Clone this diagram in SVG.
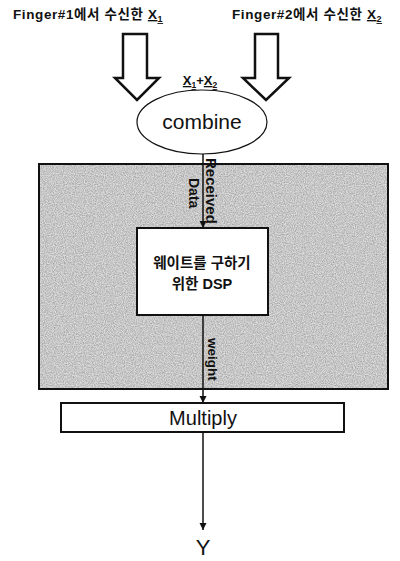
<svg xmlns="http://www.w3.org/2000/svg" width="400" height="561" viewBox="0 0 400 561">
<style>
.lbl{font-family:"Liberation Sans","Noto Sans CJK KR",sans-serif;font-weight:bold;fill:#111}
.top{font-size:13.5px;letter-spacing:0.6px}
.box{fill:#fff;stroke:#111;stroke-width:2}
.blk{fill:#fff;stroke:#111;stroke-width:2.5;stroke-linejoin:miter}
.conn{stroke:#111;stroke-width:1.5;fill:none}
.u{text-decoration:underline}
</style>
<defs>
<marker id="ah" viewBox="0 0 10 10" refX="10" refY="5" markerWidth="7" markerHeight="9" orient="auto" markerUnits="userSpaceOnUse">
<path d="M0,0 L10,5 L0,10 z" fill="#111"/>
</marker>
<filter id="noise" x="0" y="0" width="100%" height="100%">
<feTurbulence type="fractalNoise" baseFrequency="0.9" numOctaves="2" seed="3" result="t"/>
<feColorMatrix in="t" type="matrix" values="0 0 0 0 0  0 0 0 0 0  0 0 0 0 0  0 0 0 -1.6 1.15" result="a"/>
<feComposite in="a" in2="SourceGraphic" operator="in"/>
</filter>
</defs>

<g id="background-region">
<rect x="39" y="164" width="349" height="225" fill="#dcdcdc" stroke="#111" stroke-width="2"/>
<rect x="40" y="165" width="347" height="223" fill="#000" opacity="0.28" filter="url(#noise)"/>
</g>

<g id="input1">
<text class="lbl top" x="13" y="19">Finger#1에서 수신한 <tspan class="u">X</tspan><tspan class="u" font-size="9" dy="3">1</tspan></text>
<path class="blk" d="M123,34 H147 V78 H159 L137,100 L115,78 H123 Z"/>
</g>

<g id="input2">
<text class="lbl top" x="232" y="19">Finger#2에서 수신한 <tspan class="u">X</tspan><tspan class="u" font-size="9" dy="3">2</tspan></text>
<path class="blk" d="M255,34 H278 V78 H289 L266,100 L243,78 H255 Z"/>
</g>

<g id="combine">
<text class="lbl" x="200" y="85" font-size="13" text-anchor="middle"><tspan class="u">X</tspan><tspan class="u" font-size="8.5" dy="3">1</tspan><tspan dy="-3">+</tspan><tspan class="u">X</tspan><tspan class="u" font-size="8.5" dy="3">2</tspan></text>
<ellipse cx="202" cy="122" rx="65" ry="32" fill="#fff" stroke="#111" stroke-width="1.2"/>
<text x="202" y="129" font-family="Liberation Sans,sans-serif" font-size="21" text-anchor="middle" fill="#111">combine</text>
</g>

<g id="dsp">
<rect class="box" x="137" y="228" width="131" height="87"/>
<text class="lbl" x="202" y="268" font-size="14.5" text-anchor="middle">웨이트를 구하기</text>
<text class="lbl" x="202" y="289" font-size="14.5" text-anchor="middle">위한 DSP</text>
</g>

<g id="multiply">
<rect class="box" x="61" y="403" width="283" height="29"/>
<text x="203" y="425" font-family="Liberation Sans,sans-serif" font-size="20" text-anchor="middle" fill="#111">Multiply</text>
</g>

<g id="output">
<text x="203" y="555" font-family="Liberation Sans,sans-serif" font-size="22" text-anchor="middle" fill="#111">Y</text>
</g>

<g id="connectors">
<line class="conn" x1="203" y1="154" x2="203" y2="228" marker-end="url(#ah)"/>
<line class="conn" x1="203" y1="315" x2="203" y2="403" marker-end="url(#ah)"/>
<line class="conn" x1="203" y1="432" x2="203" y2="530" marker-end="url(#ah)"/>
<text class="lbl" font-size="15" transform="translate(206,158) rotate(90)">Received</text>
<text class="lbl" font-size="14" transform="translate(189,178) rotate(90)">Data</text>
<text class="lbl" font-size="13.5" transform="translate(208,338) rotate(90)">weight</text>
</g>
</svg>
